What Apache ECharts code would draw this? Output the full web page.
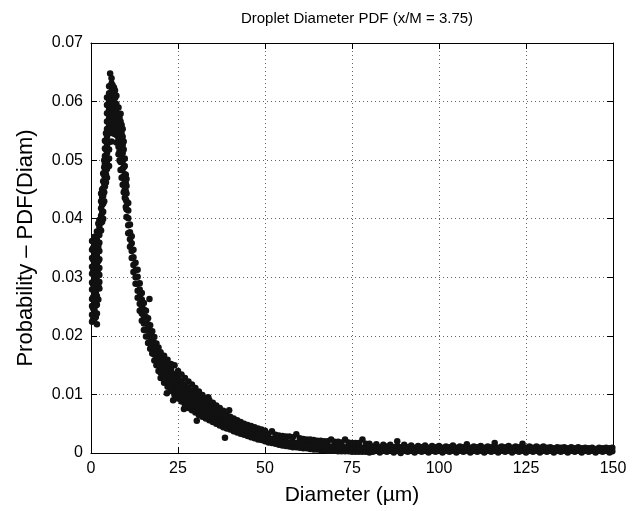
<!DOCTYPE html>
<html>
<head>
<meta charset="utf-8">
<script src="https://cdn.jsdelivr.net/npm/echarts@6/dist/echarts.min.js"></script>
<style>
html,body{margin:0;padding:0;background:#fff;}
#chart{width:632px;height:511px;}
</style>
</head>
<body>
<div id="chart"></div>
<script>
// Tick labels
const xTicks = [0, 25, 50, 75, 100, 125, 150];
const yTicks = [0, 0.01, 0.02, 0.03, 0.04, 0.05, 0.06, 0.07];

// Data: each entry = [diameter (µm), [PDF values at that diameter]]
const coreColumns = [
  [0.3, [.0224,.0236,.0251,.0263,.0279,.0291,.0306,.0318,.0333,.0347,.0362]],
  [0.6, [.0228,.0247,.0266,.0288,.0310,.0330,.0350]],
  [1.0, [.0229,.0244,.0257,.0271,.0285,.0299,.0312,.0326,.0340,.0355,.0369]],
  [1.4, [.0232,.0252,.0275,.0296,.0318,.0342,.0360]],
  [1.7, [.0220,.0238,.0253,.0268,.0282,.0295,.0309,.0323,.0338,.0351,.0364,.0378]],
  [2.1, [.0262,.0285,.0306,.0328,.0352,.0374,.0392]],
  [2.4, [.0281,.0292,.0304,.0316,.0331,.0345,.0359,.0372,.0386,.0398]],
  [2.9, [.0380,.0393,.0405,.0418,.0430,.0443]],
  [3.2, [.0395,.0410,.0424,.0437,.0450]],
  [3.5, [.0400,.0412,.0426,.0439,.0452,.0464,.0477]],
  [3.8, [.0430,.0445,.0460,.0474,.0488,.0500]],
  [4.0, [.0455,.0468,.0481,.0494,.0507,.0520,.0533]],
  [4.3, [.0462,.0476,.0490,.0504,.0518,.0532,.0546]],
  [4.6, [.0470,.0485,.0498,.0512,.0525,.0540,.0553,.0566,.0580,.0594,.0607]],
  [5.2, [.0490,.0503,.0518,.0531,.0546,.0559,.0572,.0587,.0600,.0614,.0626]],
  [5.5, [.0648]],
  [5.9, [.0532,.0547,.0561,.0575,.0590,.0604,.0617,.0631,.0640]],
  [6.2, [.0556,.0570,.0583,.0597,.0610,.0628]],
  [6.6, [.0545,.0558,.0571,.0586,.0598,.0612,.0624]],
  [6.9, [.0552,.0566,.0580,.0592,.0606,.0619]],
  [7.3, [.0530,.0543,.0557,.0569,.0582,.0596,.0610]],
  [7.9, [.0510,.0523,.0537,.0550,.0563,.0577,.0590]],
  [8.2, [.0500,.0515,.0530,.0544,.0558,.0572]],
  [8.5, [.0483,.0497,.0510,.0524,.0538,.0551,.0566,.0579]],
  [8.8, [.0470,.0484,.0500,.0514,.0528,.0545,.0560]],
  [9.1, [.0458,.0471,.0485,.0498,.0512,.0526,.0540,.0553]],
  [9.4, [.0445,.0458,.0472,.0488,.0502,.0518,.0532]],
  [9.7, [.0436,.0449,.0463,.0476,.0490,.0503]],
  [10.0, [.0420,.0433,.0447,.0460,.0475]],
  [10.2, [.0403,.0416,.0430,.0443,.0456,.0468]],
  [10.7, [.0375,.0389,.0401,.0414,.0427]],
  [11.2, [.0352,.0365,.0377,.0390]],
  [11.7, [.0333,.0345,.0358,.0370]],
  [12.2, [.0309,.0321,.0334,.0347]],
  [12.8, [.0289,.0300,.0312,.0325]],
  [13.4, [.0265,.0277,.0289,.0301,.0313]],
  [14.0, [.0243,.0255,.0267,.0279,.0290]],
  [14.6, [.0226,.0238,.0250,.0262,.0273]],
  [15.2, [.0210,.0221,.0233,.0245,.0256]],
  [15.8, [.0199,.0210,.0221,.0232,.0243]],
  [16.4, [.0188,.0199,.0209,.0220,.0230]],
  [16.8, [.0263]],
  [17.0, [.0178,.0188,.0198,.0208,.0218]],
  [17.6, [.0170,.0179,.0189,.0199,.0208]],
  [18.2, [.0158,.0168,.0178,.0188,.0198]],
  [18.8, [.0150,.0160,.0169,.0178,.0187]],
  [19.4, [.0140,.0150,.0160,.0170,.0180]]
];

const decayColumns = [
  [20.0, [.0128,.0137,.0146,.0155,.0164,.0172]],
  [21.0, [.0120,.0130,.0139,.0148,.0157,.0166]],
  [21.8, [.0102]],
  [22.0, [.0113,.0122,.0131,.0140,.0149,.0159]],
  [23.0, [.0106,.0115,.0124,.0133,.0142,.0152]],
  [23.6, [.0090]],
  [24.0, [.0099,.0108,.0117,.0126,.0135,.0150]],
  [25.0, [.0093,.0102,.0111,.0120,.0130,.0140]],
  [26.0, [.0088,.0096,.0105,.0114,.0123,.0134]],
  [26.7, [.0075]],
  [27.0, [.0082,.0091,.0099,.0108,.0117,.0128]],
  [28.0, [.0077,.0085,.0093,.0102,.0111,.0122]],
  [29.0, [.0073,.0080,.0088,.0097,.0106,.0117]],
  [30.0, [.0069,.0076,.0084,.0092,.0101,.0111]],
  [30.4, [.0055]],
  [31.0, [.0065,.0072,.0080,.0088,.0096,.0105]],
  [32.0, [.0062,.0069,.0076,.0083,.0091,.0099]],
  [33.0, [.0059,.0066,.0073,.0080,.0087,.0094]],
  [33.7, [.0095]],
  [34.0, [.0056,.0063,.0070,.0077,.0084,.0090]],
  [35.0, [.0053,.0060,.0067,.0073,.0080,.0086]],
  [36.0, [.0050,.0057,.0063,.0069,.0076,.0081]],
  [37.0, [.0047,.0054,.0060,.0066,.0072,.0077]],
  [38.0, [.0044,.0051,.0057,.0063,.0068,.0072]],
  [38.5, [.0026]],
  [39.0, [.0042,.0048,.0054,.0060,.0065]],
  [39.7, [.0073]],
  [40.0, [.0040,.0046,.0051,.0057,.0062]],
  [41.0, [.0037,.0043,.0048,.0054,.0059]],
  [42.0, [.0035,.0041,.0046,.0051,.0056]],
  [43.0, [.0033,.0038,.0043,.0048,.0053]],
  [44.0, [.0031,.0036,.0041,.0046,.0050]],
  [45.0, [.0029,.0034,.0039,.0044,.0048]],
  [46.0, [.0027,.0032,.0037,.0042,.0046]],
  [47.0, [.0025,.0030,.0035,.0040,.0044]],
  [48.0, [.0023,.0028,.0033,.0038,.0042]],
  [49.0, [.0022,.0027,.0032,.0036,.0040]],
  [50.0, [.0020,.0025,.0030,.0034,.0038]]
];

const tailColumns = [
  [51, [.0018,.0026,.0033]], [52, [.0017,.0024,.0037]], [53, [.0016,.0023,.0031]],
  [54, [.0014,.0021,.0030]], [55, [.0013,.0020,.0029]], [56, [.0012,.0019,.0028]],
  [57, [.0011,.0018,.0028]], [58, [.0010,.0018,.0027]], [59, [.0010,.0017,.0032]],
  [60, [.0009,.0016,.0025]], [61, [.0008,.0015,.0024]], [62, [.0008,.0015,.0023]],
  [63, [.0007,.0014,.0023]], [64, [.0006,.0013,.0022]], [65, [.0006,.0013,.0021]],
  [66, [.0005,.0012,.0021]], [67, [.0005,.0012,.0020]], [68, [.0004,.0011,.0020]],
  [69, [.0004,.0011,.0023]], [70, [.0004,.0011,.0019]], [71, [.0003,.0010,.0019]],
  [72, [.0003,.0010,.0018]], [73, [.0003,.0010,.0023]], [74, [.0003,.0010,.0018]],
  [75, [.0002,.0009,.0017]], [76, [.0002,.0009,.0017]], [77, [.0002,.0009,.0017]],
  [78, [.0002,.0009,.0023]], [79, [.0002,.0009,.0016]], [80, [.0001,.0008,.0016]],
  [81, [.0002,.0011]], [82, [.0005,.0015]], [83, [.0001,.0010]], [84, [.0004,.0014]],
  [85, [.0002,.0011]], [86, [.0005,.0014]], [87, [.0001,.0010]], [88, [.0004,.0012,.0020]],
  [89, [.0000,.0010]], [90, [.0004,.0014]], [91, [.0002,.0010]], [92, [.0005,.0013]],
  [93, [.0001,.0009]], [94, [.0004,.0012]], [95, [.0002,.0010]], [96, [.0005,.0013]],
  [97, [.0001,.0009]], [98, [.0004,.0012]], [99, [.0002,.0010]], [100, [.0005,.0012]],
  [101, [.0001,.0009]], [102, [.0004,.0011]], [103, [.0002,.0010]], [104, [.0004,.0013]],
  [105, [.0001,.0009]], [106, [.0004,.0011]], [107, [.0002,.0010]], [108, [.0004,.0008,.0015]],
  [109, [.0001,.0009]], [110, [.0004,.0011]], [111, [.0002,.0010]], [112, [.0004,.0012]],
  [113, [.0001,.0009]], [114, [.0004,.0011]], [115, [.0002,.0010]], [116, [.0004,.0010,.0017]],
  [117, [.0001,.0009]], [118, [.0004,.0011]], [119, [.0002,.0010]], [120, [.0004,.0012]],
  [121, [.0001,.0009]], [122, [.0004,.0011]], [123, [.0002,.0010]], [124, [.0004,.0010,.0016]],
  [125, [.0001,.0009]], [126, [.0004,.0011]], [127, [.0002,.0009]], [128, [.0004,.0011]],
  [129, [.0001,.0009]], [130, [.0004,.0011]], [131, [.0002,.0009]], [132, [.0004,.0010]],
  [133, [.0001,.0008]], [134, [.0004,.0010]], [135, [.0002,.0009]], [136, [.0004,.0010]],
  [137, [.0001,.0008]], [138, [.0004,.0010]], [139, [.0002,.0008]], [140, [.0004,.0010]],
  [141, [.0001,.0008]], [142, [.0004,.0009]], [143, [.0002,.0008]], [144, [.0004,.0009]],
  [145, [.0001,.0007]], [146, [.0004,.0009]], [147, [.0002,.0008]], [148, [.0004,.0009]],
  [149, [.0001,.0008]], [149.8, [.0003,.0009]]
];

function toPoints(cols) {
  const pts = [];
  cols.forEach(function (c) { c[1].forEach(function (v) { pts.push([c[0], v]); }); });
  return pts;
}
const points = toPoints(coreColumns).concat(toPoints(decayColumns), toPoints(tailColumns));

const FONT = "'Liberation Sans', Arial, Helvetica, sans-serif";
const chart = echarts.init(document.getElementById('chart'), null, {renderer: 'canvas'});
const axisLine = {show: true, onZero: false, lineStyle: {color: '#000', width: 1}};
const tick = {show: true, inside: true, length: 6, lineStyle: {color: '#000'}};
const grid = {show: true, lineStyle: {color: '#666', width: 1, type: [1, 3]}};

chart.setOption({
  animation: false,
  backgroundColor: '#fff',
  title: {
    text: 'Droplet Diameter PDF (x/M = 3.75)',
    left: 352, top: 6, textAlign: 'center',
    textStyle: {fontFamily: FONT, fontSize: 15, fontWeight: 'normal', color: '#000'}
  },
  grid: {left: 91, right: 19, top: 43, bottom: 56, containLabel: false},
  xAxis: [{
    type: 'value', min: xTicks[0], max: xTicks[xTicks.length - 1], interval: 25,
    name: 'Diameter (µm)', nameLocation: 'middle', nameGap: 32,
    nameTextStyle: {fontFamily: FONT, fontSize: 21, color: '#000'},
    axisLine: axisLine, axisTick: tick, splitLine: grid,
    axisLabel: {fontFamily: FONT, fontSize: 16, color: '#000', margin: 8}
  }, {
    type: 'value', position: 'top', min: 0, max: 150, interval: 25,
    axisLine: axisLine, axisTick: tick, axisLabel: {show: false}, splitLine: {show: false}
  }],
  yAxis: [{
    type: 'value', min: yTicks[0], max: yTicks[yTicks.length - 1], interval: 0.01,
    name: 'Probability – PDF(Diam)', nameLocation: 'middle', nameGap: 54,
    nameTextStyle: {fontFamily: FONT, fontSize: 22, color: '#000'},
    axisLine: axisLine, axisTick: tick, splitLine: grid,
    axisLabel: {fontFamily: FONT, fontSize: 16, color: '#000', margin: 8}
  }, {
    type: 'value', position: 'right', min: 0, max: 0.07, interval: 0.01,
    axisLine: axisLine, axisTick: tick, axisLabel: {show: false}, splitLine: {show: false}
  }],
  series: [{
    type: 'scatter',
    data: points,
    symbol: 'circle',
    symbolSize: 6.5,
    itemStyle: {color: '#111', opacity: 1},
    silent: true
  }]
});
</script>
</body>
</html>
